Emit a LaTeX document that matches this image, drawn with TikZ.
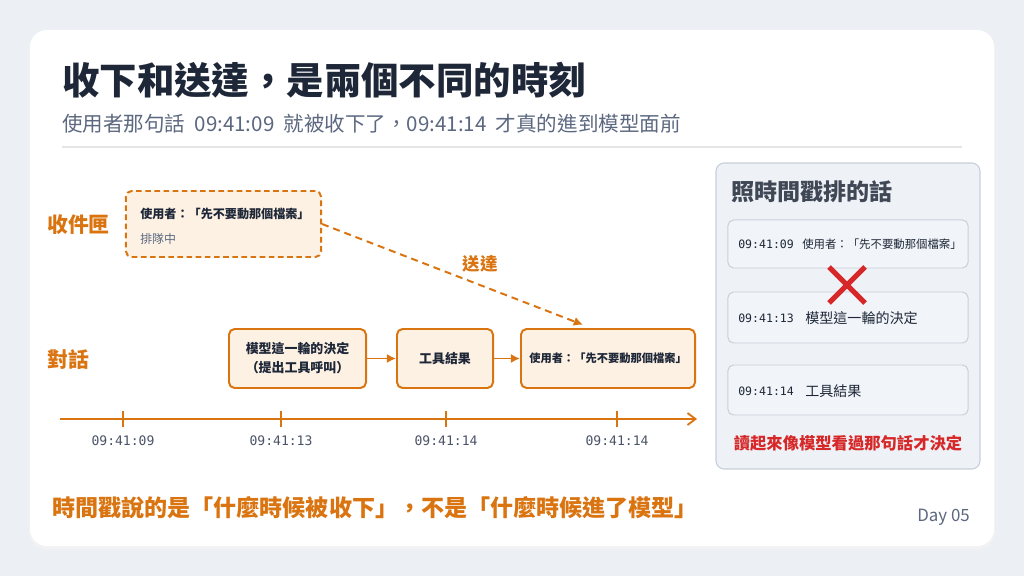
\documentclass[tikz,border=0pt]{standalone}
\usepackage{fontspec}
\setmainfont{Noto Sans CJK TC}
\newfontfamily\monofont{DejaVu Sans Mono}
\usetikzlibrary{arrows.meta,positioning,calc}
\definecolor{pagebg}{HTML}{ECEFF4}
\definecolor{ink}{HTML}{1E2737}
\definecolor{subink}{HTML}{5C6880}
\definecolor{accent}{HTML}{DA7410}
\definecolor{accentfill}{HTML}{FDF1E4}
\definecolor{panelfill}{HTML}{EEF2F7}
\definecolor{rowfill}{HTML}{F1F4F8}
\definecolor{panelline}{HTML}{C8CFDB}
\definecolor{alert}{HTML}{D62828}
\newcommand{\fsz}[1]{\fontsize{#1}{#1}\selectfont}

\begin{document}
\begin{tikzpicture}[x=0.025cm, y=-0.025cm,
  heading/.style={anchor=west, inner sep=0, text=ink, font=\fsz{26.6}\bfseries},
  lane/.style={anchor=west, inner sep=0, text=accent, font=\fsz{14.8}\bfseries},
  evt/.style={draw=accent, line width=1.4pt, rounded corners=4pt, fill=accentfill,
              minimum height=1.475cm, align=center, inner sep=0, text=ink,
              font=\fsz{9.2}\bfseries},
  queued/.style={evt, dash pattern=on 4pt off 2.5pt, minimum height=1.65cm,
                 minimum width=4.875cm},
  row/.style={draw=panelline, line width=0.7pt, rounded corners=4pt, fill=rowfill,
              minimum width=6cm, inner sep=0},
  stamp/.style={anchor=west, inner sep=0, text=ink, font=\monofont\fsz{8.2}},
  msg/.style={anchor=west, inner sep=0, text=ink, font=\fsz{10}},
  tick/.style={text=subink!80!black, font=\monofont\fsz{9.3}},
  arr/.style={-{Latex[length=2.3mm, width=2.3mm]}, draw=accent, line width=1.4pt}
]
% page and card
\fill[pagebg] (0,0) rectangle (1024,576);
\fill[black!5, rounded corners=12pt] (29,32) rectangle (995,549);
\fill[white, rounded corners=12pt] (30,30) rectangle (994,546);

% heading
\node[heading] (title) at (62,80) {收下和送達，是兩個不同的時刻};
\node[anchor=west, inner sep=0, text=subink, font=\fsz{14.6}] (sub) at (62,124)
  {使用者那句話\hspace{0.45em}09:41:09\hspace{0.45em}就被收下了，09:41:14\hspace{0.45em}才真的進到模型面前};
\draw[black!10, line width=0.8pt] (62,147) -- (962,147);

% lanes
\node[lane] (inboxlbl) at (47,225) {收件匣};
\node[lane] (chatlbl) at (47,360) {對話};

\node[queued] (inbox) at (223.5,224) {};
\node[anchor=west, inner sep=0, text=ink, font=\fsz{8.6}\bfseries] (inboxmsg) at (140,214)
  {使用者：「先不要動那個檔案」};
\node[anchor=west, inner sep=0, text=subink, font=\fsz{8.5}] (inboxstate) at (140,239) {排隊中};

\node[evt, minimum width=3.425cm] (decide) at (297.5,358.5) {模型這一輪的決定\\[4.3pt]（提出工具呼叫）};
\node[evt, minimum width=2.4cm] (result) at (445,358.5) {工具結果};
\node[evt, minimum width=4.35cm, font=\fsz{8}\bfseries] (user) at (608,358.5)
  {使用者：「先不要動那個檔案」};

\draw[arr] (decide) -- (result);
\draw[arr] (result) -- (user);
\draw[arr, dash pattern=on 5pt off 3.5pt] (inbox.east) -- ([xshift=-6.25mm, yshift=0.8mm]user.north);
\node[text=accent, font=\fsz{12.4}\bfseries, inner sep=0] (deliver) at (480,264) {送達};

% timeline
\coordinate (tstart) at (60,419);
\coordinate (tend) at (697,419);
\draw[-{Straight Barb[length=2mm, width=3mm]}, accent, line width=1.3pt] (tstart) -- (tend);
\foreach \x/\t [count=\i] in {123/09:41:09, 281/09:41:13, 446/09:41:14, 617/09:41:14} {
  \draw[accent, line width=1.2pt] (\x,411) -- (\x,427);
  \node[tick] (t\i) at (\x,441) {\t};
}

% sorted by timestamp
\node[draw=panelline, line width=0.8pt, rounded corners=6pt, fill=panelfill,
      minimum width=6.6cm, minimum height=7.65cm] (panel) at (848,316) {};
\node[anchor=west, inner sep=0, text=ink!85, font=\fsz{16.4}\bfseries] (paneltitle) at (731,192) {照時間戳排的話};

\node[row, minimum height=1.2cm] (row1) at (848,244) {};
\node[row, minimum height=1.275cm] (row2) at (848,317.5) {};
\node[row, minimum height=1.25cm] (row3) at (848,390) {};

\node[stamp] (s1) at (738,244) {09:41:09};
\node[msg, font=\fsz{8.1}] (m1) at (802,244) {使用者：「先不要動那個檔案」};
\node[stamp] (s2) at (738,318) {09:41:13};
\node[msg] (m2) at (805,318) {模型這一輪的決定};
\node[stamp] (s3) at (738,391) {09:41:14};
\node[msg] (m3) at (805,391) {工具結果};

\draw[alert, line width=3.6pt] (829,267) -- (865,303) (865,267) -- (829,303);

\node[text=alert, font=\fsz{11.6}\bfseries, inner sep=0] (verdict) at (848,443) {讀起來像模型看過那句話才決定};

% takeaway
\node[anchor=west, inner sep=0, text=accent, font=\fsz{16.4}\bfseries] (takeaway) at (52,508)
  {時間戳說的是「什麼時候被收下」，不是「什麼時候進了模型」};
\node[anchor=east, inner sep=0, text=subink, font=\fsz{12}] (day) at (970,517) {Day 05};
\end{tikzpicture}
\end{document}
